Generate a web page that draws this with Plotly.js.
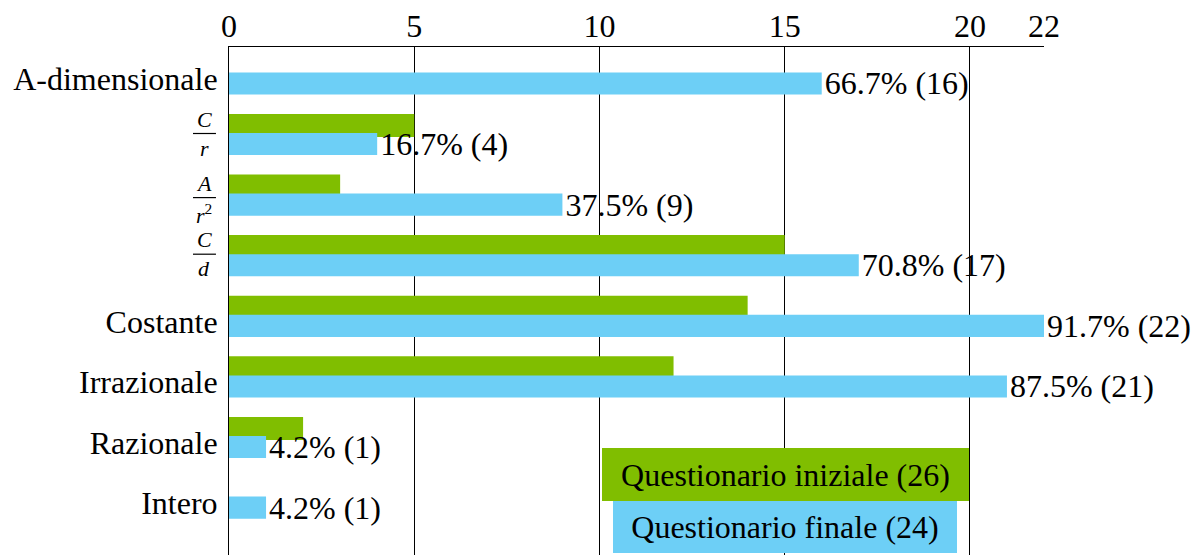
<!DOCTYPE html>
<html>
<head>
<meta charset="utf-8">
<script src="https://cdn.plot.ly/plotly-3.0.1.min.js"></script>
<style>
  html, body { margin: 0; padding: 0; background: #ffffff; }
  #chart { width: 1195px; height: 555px; }
</style>
</head>
<body>
<div id="chart"></div>
<script>
// Answer categories, top to bottom
const categories = ['A-dimensionale', 'C/r', 'A/r²', 'C/d', 'Costante', 'Irrazionale', 'Razionale', 'Intero'];
// Number of answers per category in each questionnaire
const initialCounts = [null, 5, 3, 15, 14, 12, 2, 0];
const finalCounts = [16, 4, 9, 17, 22, 21, 1, 1];
// Respondents per questionnaire
const initialTotal = 26;
const finalTotal = 24;
const seriesNames = ['Questionario iniziale', 'Questionario finale'];
const xTicks = [0, 5, 10, 15, 20, 22];

// Categories shown as fractions (numerator / denominator)
const fractionParts = {
  'C/r': ['<i>C</i>', '<i>r</i>'],
  'A/r²': ['<i>A</i>', '<i>r</i><sup>2</sup>'],
  'C/d': ['<i>C</i>', '<i>d</i>']
};

const FONT = "'Liberation Serif', 'DejaVu Serif', serif";
const GREEN = '#80BE00';
const BLUE = '#6DCFF6';

const finalLabels = finalCounts.map(v => (v / finalTotal * 100).toFixed(1) + '% (' + v + ')');
const plainCategories = categories.filter(c => !fractionParts[c]);

const traces = [
  {
    type: 'bar', orientation: 'h', name: seriesNames[0],
    y: categories, x: initialCounts,
    offset: -0.34, width: 0.38,
    marker: { color: GREEN, line: { width: 0 } },
    textposition: 'none', hoverinfo: 'skip'
  },
  {
    type: 'bar', orientation: 'h', name: seriesNames[1],
    y: categories, x: finalCounts,
    offset: -0.025, width: 0.365,
    marker: { color: BLUE, line: { width: 0 } },
    text: finalLabels, textposition: 'outside', cliponaxis: false, constraintext: 'none',
    outsidetextfont: { family: FONT, size: 32, color: '#000' },
    hoverinfo: 'skip'
  }
];

// Fraction tick labels: numerator, bar, denominator
const annotations = [];
const shapes = [];
const fracX = -0.0301;           // label centre, paper units
const fracBar = [-0.0442, -0.016];
const fracShift = { 'C/r': -1, 'A/r²': 2.5, 'C/d': -1.5 }; // px below category centre
categories.forEach((c, i) => {
  if (!fractionParts[c]) return;
  const d = fracShift[c];
  annotations.push({
    xref: 'paper', x: fracX, yref: 'y', y: c, xanchor: 'center', yanchor: 'bottom',
    yshift: 1 - d, showarrow: false, borderpad: 0,
    text: fractionParts[c][0], font: { family: FONT, size: 22, color: '#000' }
  });
  annotations.push({
    xref: 'paper', x: fracX, yref: 'y', y: c, xanchor: 'center', yanchor: 'top',
    yshift: -(d + 1), showarrow: false, borderpad: 0,
    text: fractionParts[c][1], font: { family: FONT, size: 22, color: '#000' }
  });
  shapes.push({
    type: 'line', xref: 'paper', yref: 'y',
    x0: fracBar[0], x1: fracBar[1], y0: i + d / 60.6, y1: i + d / 60.6,
    line: { color: '#000', width: 1.2 }
  });
});

// Legend boxes
annotations.push({
  xref: 'paper', yref: 'paper', x: 0.6826, y: 0.1585, xanchor: 'center', yanchor: 'middle',
  width: 367, height: 53, borderpad: 0, borderwidth: 0, bgcolor: GREEN, showarrow: false,
  text: seriesNames[0] + ' (' + initialTotal + ')', font: { family: FONT, size: 32, color: '#000' }
});
annotations.push({
  xref: 'paper', yref: 'paper', x: 0.6826, y: 0.0551, xanchor: 'center', yanchor: 'middle',
  width: 344, height: 52, borderpad: 0, borderwidth: 0, bgcolor: BLUE, showarrow: false,
  text: seriesNames[1] + ' (' + finalTotal + ')', font: { family: FONT, size: 32, color: '#000' }
});

const layout = {
  width: 1195, height: 555,
  margin: { l: 229, r: 151, t: 47, b: 0, pad: 0 },
  paper_bgcolor: '#ffffff', plot_bgcolor: '#ffffff',
  font: { family: FONT, size: 32, color: '#000' },
  barmode: 'overlay',
  showlegend: false,
  xaxis: {
    side: 'top', range: [0, 22], tickmode: 'array', tickvals: xTicks,
    showgrid: true, gridcolor: '#000', gridwidth: 1,
    zeroline: false, showline: true, linecolor: '#000', linewidth: 1,
    ticks: '', ticklabelstandoff: -4,
    tickfont: { family: FONT, size: 32, color: '#000' }
  },
  yaxis: {
    type: 'category', categoryorder: 'array', categoryarray: categories,
    range: [7.939, -0.444], tickmode: 'array', tickvals: plainCategories,
    ticktext: plainCategories,
    showgrid: false, zeroline: false, showline: true, linecolor: '#000', linewidth: 1,
    ticks: '', ticklabelstandoff: 4, ticklabelshift: -5,
    tickfont: { family: FONT, size: 32, color: '#000' }
  },
  annotations: annotations,
  shapes: shapes
};

Plotly.newPlot('chart', traces, layout, { displayModeBar: false, staticPlot: true });
</script>
</body>
</html>
